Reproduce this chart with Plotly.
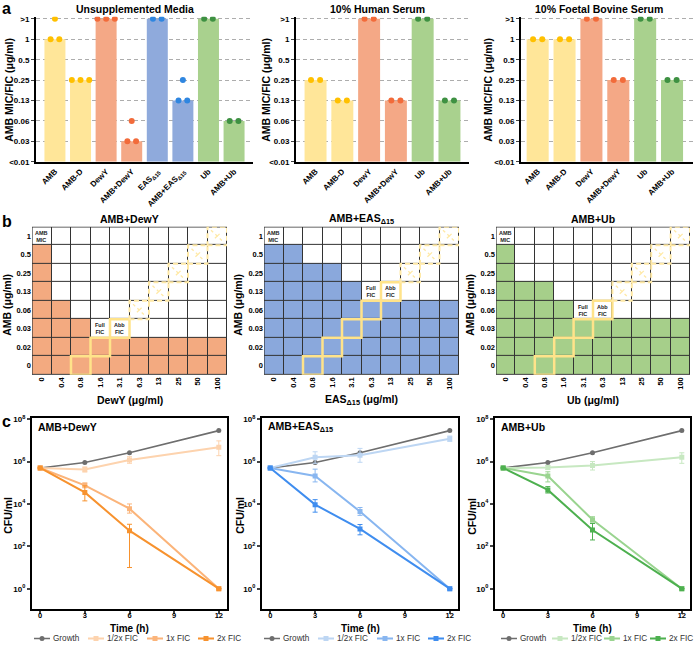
import plotly.graph_objects as go

W, H = 696, 648
FONT = "Liberation Sans, Arial, sans-serif"

# ------------------------- panel a data -------------------------
mic_levels = ["<0.01", "0.03", "0.06", "0.13", "0.25", "0.5", "1", ">1"]

unsup_cats = ["AMB", "AMB-D", "DewY", "AMB+DewY", "EAS<sub>Δ15</sub>",
              "AMB+EAS<sub>Δ15</sub>", "Ub", "AMB+Ub"]
unsup_bar = ["1", "0.25", ">1", "0.03", ">1", "0.13", ">1", "0.06"]
unsup_reps = [["1", ">1", "1"], ["0.25", "0.25", "0.25"], [">1", ">1", ">1"],
              ["0.03", "0.06", "0.03"], [">1", ">1"], ["0.13", "0.25", "0.13"],
              [">1", ">1"], ["0.06", "0.06"]]

hs_cats = ["AMB", "AMB-D", "DewY", "AMB+DewY", "Ub", "AMB+Ub"]
hs_bar = ["0.25", "0.13", ">1", "0.13", ">1", "0.13"]
hs_reps = [["0.25", "0.25"], ["0.13", "0.13"], [">1", ">1"],
           ["0.13", "0.13"], [">1", ">1"], ["0.13", "0.13"]]

fbs_cats = ["AMB", "AMB-D", "DewY", "AMB+DewY", "Ub", "AMB+Ub"]
fbs_bar = ["1", "1", ">1", "0.25", ">1", "0.25"]
fbs_reps = [["1", "1"], ["1", "1"], [">1", ">1"],
            ["0.25", "0.25"], [">1", ">1"], ["0.25", "0.25"]]

# ------------------------- panel b data -------------------------
partner_conc = ["0", "0.4", "0.8", "1.6", "3.1", "6.3", "13", "25", "50", "100"]
amb_conc = ["0", "0.02", "0.03", "0.06", "0.13", "0.25", "0.5", "1"]
# lowest AMB concentration without growth, for each partner concentration
dewy_mic = ["1", "0.13", "0.06", "0.03", "0.03", "0.03", "0.03", "0.03", "0.03", "0.03"]
eas_mic = ["1", "1", "0.5", "0.5", "0.25", "0.13", "0.13", "0.13", "0.13", "0.13"]
ub_mic = ["1", "0.25", "0.25", "0.13", "0.06", "0.06", "0.06", "0.06", "0.06", "0.06"]
# (partner, AMB) of full and abbreviated FIC
dewy_full, dewy_abb = ("1.6", "0.03"), ("3.1", "0.03")
eas_full, eas_abb = ("6.3", "0.13"), ("13", "0.13")
ub_full, ub_abb = ("3.1", "0.06"), ("6.3", "0.06")

# ------------------------- panel c data -------------------------
time_h = [0, 3, 6, 12]
growth_cfu = [5.0e5, 9.0e5, 2.6e6, 2.9e7]

dewy_half = [5.0e5, 4.2e5, 1.2e6, 4.7e6]
dewy_half_lo = [None, 3.2e5, 8.3e5, 1.9e6]
dewy_half_hi = [None, 5.6e5, 1.7e6, 9.5e6]
dewy_1x = [5.0e5, 7.6e4, 6.0e3, 1]
dewy_1x_lo = [None, 5.8e4, 3.7e3, None]
dewy_1x_hi = [None, 9.8e4, 1.0e4, None]
dewy_2x = [5.0e5, 3.5e4, 5.5e2, 1]
dewy_2x_lo = [None, 1.4e4, 10, None]
dewy_2x_hi = [None, 7.2e4, 1.1e3, None]

eas_half = [5.0e5, 1.6e6, 2.0e6, 1.2e7]
eas_half_lo = [None, 8.3e5, 9.3e5, 9.0e6]
eas_half_hi = [None, 2.9e6, 4.2e6, 1.6e7]
eas_1x = [5.0e5, 2.1e5, 4.4e3, 1]
eas_1x_lo = [None, 1.1e5, 2.9e3, None]
eas_1x_hi = [None, 4.4e5, 6.8e3, None]
eas_2x = [5.0e5, 9.3e3, 6.6e2, 1]
eas_2x_lo = [None, 4.1e3, 3.5e2, None]
eas_2x_hi = [None, 1.6e4, 1.07e3, None]

ub_half = [5.0e5, 5.3e5, 6.5e5, 1.6e6]
ub_half_lo = [None, 4.2e5, 4.0e5, 8.3e5]
ub_half_hi = [None, 6.6e5, 1.0e6, 2.6e6]
ub_1x = [5.0e5, 2.1e5, 1.8e3, 1]
ub_1x_lo = [None, 1.1e5, 1.4e3, None]
ub_1x_hi = [None, 3.3e5, 2.5e3, None]
ub_2x = [5.0e5, 4.6e4, 5.9e2, 1]
ub_2x_lo = [None, 3.3e4, 2.0e2, None]
ub_2x_hi = [None, 6.6e4, 1.2e3, None]

legend_names = ["Growth", "1/2x FIC", "1x FIC", "2x FIC"]

# ------------------------- styling -------------------------
bar_fill = {"AMB": "#FFE699", "DewY": "#F4A886", "EAS": "#8FAADC", "Ub": "#A9D18E"}
dot_fill = {"AMB": "#FFC000", "DewY": "#F26B3A", "EAS": "#2F86E0", "Ub": "#3E9142"}
heat_fill = {"DewY": "#F3AA80", "EAS": "#8AA8DC", "Ub": "#A6CF8A"}
growth_col = "#6E6E6E"
line_cols = {"DewY": ["#FDD3AE", "#FBB47A", "#F7922E"],
             "EAS": ["#BDD6F3", "#88B6F0", "#3F8DEF"],
             "Ub": ["#C7E8C1", "#9AD490", "#4DB04F"]}
FIC_YELLOW = "#FFE38A"
FIC_DASH = "#FFE9A6"


def fx(p):
    return p / W


def fy(p):
    return 1 - p / H


def family(name):
    for key in ("DewY", "EAS", "Ub"):
        if key in name:
            return key
    return "AMB"


fig = go.Figure()
layout = dict(width=W, height=H, margin=dict(l=0, r=0, t=0, b=0),
              paper_bgcolor="white", plot_bgcolor="white", showlegend=False,
              font=dict(family=FONT, size=8, color="black"))
annotations = []
shapes = []


def ax_names(i):
    if i == 1:
        return "x", "y", "xaxis", "yaxis"
    return f"x{i}", f"y{i}", f"xaxis{i}", f"yaxis{i}"


def ann(text, x, y, size=10.5, angle=0, xanchor="center", color="black", bold=True):
    annotations.append(dict(text=(f"<b>{text}</b>" if bold else text), x=fx(x), y=fy(y),
                            xref="paper", yref="paper", showarrow=False, borderpad=0,
                            xanchor=xanchor, yanchor="middle", textangle=angle,
                            font=dict(family=FONT, size=size, color=color)))


# ------------------------- panel a -------------------------
a_panels = [
    dict(title="Unsupplemented Media", cats=unsup_cats, bar=unsup_bar, reps=unsup_reps,
         x=(36, 253), xr=(-0.74, 7.74), tx=135, ytx=9),
    dict(title="10% Human Serum", cats=hs_cats, bar=hs_bar, reps=hs_reps,
         x=(296, 469), xr=(-0.73, 5.73), tx=377, ytx=266),
    dict(title="10% Foetal Bovine Serum", cats=fbs_cats, bar=fbs_bar, reps=fbs_reps,
         x=(521, 693), xr=(-0.62, 5.78), tx=599, ytx=488),
]
for i, p in enumerate(a_panels, start=1):
    xa, ya, xk, yk = ax_names(i)
    idx = list(range(len(p["cats"])))
    fig.add_trace(go.Bar(x=idx, y=[mic_levels.index(v) for v in p["bar"]],
                         marker=dict(color=[bar_fill[family(c)] for c in p["cats"]],
                                     line=dict(width=0)),
                         width=0.82, xaxis=xa, yaxis=ya, hoverinfo="skip"))
    dx, dy, dc = [], [], []
    for j, reps in enumerate(p["reps"]):
        groups = {}
        for v in reps:
            groups.setdefault(v, 0)
            groups[v] += 1
        for v, n in groups.items():
            for k in range(n):
                dx.append(j + (k - (n - 1) / 2) * 0.34)
                dy.append(mic_levels.index(v))
                dc.append(dot_fill[family(p["cats"][j])])
    fig.add_trace(go.Scatter(x=dx, y=dy, mode="markers",
                             marker=dict(color=dc, size=6, line=dict(width=0)),
                             xaxis=xa, yaxis=ya, hoverinfo="skip"))
    layout[xk] = dict(domain=[fx(p["x"][0]), fx(p["x"][1])], range=list(p["xr"]),
                      tickvals=idx, ticktext=p["cats"], tickangle=-45,
                      showline=True, linewidth=2, linecolor="black", ticks="",
                      showgrid=False, zeroline=False, anchor=ya,
                      tickfont=dict(size=8, weight="bold"))
    layout[yk] = dict(domain=[fy(160), fy(13)], range=[0, 7.1],
                      tickvals=list(range(len(mic_levels))), ticktext=mic_levels,
                      showline=True, linewidth=2, linecolor="black",
                      ticks="outside", ticklen=3, tickwidth=1,
                      showgrid=True, gridcolor="#ADADAD", gridwidth=1, griddash="4px,3px",
                      zeroline=False, anchor=xa, tickfont=dict(size=8, weight="bold"))
    ann(p["title"], p["tx"], 5)
    ann("AMB MIC/FIC (μg/ml)", p["ytx"], 87, size=10.5, angle=-90)

# ------------------------- panel b -------------------------
b_panels = [
    dict(title="AMB+DewY", xt="DewY (μg/ml)", mic=dewy_mic, full=dewy_full, abb=dewy_abb,
         color=heat_fill["DewY"], x=(32, 227), ytx=7),
    dict(title="AMB+EAS<sub>Δ15</sub>", xt="EAS<sub>Δ15</sub> (μg/ml)", mic=eas_mic,
         full=eas_full, abb=eas_abb, color=heat_fill["EAS"], x=(264, 459), ytx=238),
    dict(title="AMB+Ub", xt="Ub (μg/ml)", mic=ub_mic, full=ub_full, abb=ub_abb,
         color=heat_fill["Ub"], x=(496, 690), ytx=470),
]
for i, p in enumerate(b_panels, start=4):
    xa, ya, xk, yk = ax_names(i)
    ncol, nrow = len(partner_conc), len(amb_conc)
    z = [[1 if r < amb_conc.index(p["mic"][c]) else 0 for c in range(ncol)]
         for r in range(nrow)]
    fig.add_trace(go.Heatmap(z=z, x=list(range(ncol)), y=list(range(nrow)),
                             colorscale=[[0, "white"], [1, p["color"]]], zmin=0, zmax=1,
                             showscale=False, xgap=1, ygap=1, hoverinfo="skip",
                             xaxis=xa, yaxis=ya))
    shapes.append(dict(type="rect", xref=xa, yref=ya, x0=-0.5, x1=ncol - 0.5,
                       y0=-0.5, y1=nrow - 0.5, fillcolor="#333333",
                       line=dict(width=0), layer="below"))
    shapes.append(dict(type="rect", xref=xa, yref=ya, x0=-0.5, x1=ncol - 0.5,
                       y0=-0.5, y1=nrow - 0.5, line=dict(width=1.2, color="#333333")))
    ac = partner_conc.index(p["abb"][0])
    ar = amb_conc.index(p["abb"][1])
    d = ac - ar
    for c in range(d, ncol):
        r = c - d
        if r < 0 or r >= nrow:
            continue
        if c <= ac:
            shapes.append(dict(type="rect", xref=xa, yref=ya, x0=c - 0.5, x1=c + 0.5,
                               y0=r - 0.5, y1=r + 0.5,
                               line=dict(width=2.5, color=FIC_YELLOW)))
        else:
            shapes.append(dict(type="rect", xref=xa, yref=ya, x0=c - 0.5, x1=c + 0.5,
                               y0=r - 0.5, y1=r + 0.5,
                               line=dict(width=2, color=FIC_DASH, dash="5px,3px")))
            # diagonal arrow-like marks inside the projected boxes
            shapes.append(dict(type="line", xref=xa, yref=ya, x0=c - 0.32, x1=c + 0.32,
                               y0=r + 0.32, y1=r - 0.32,
                               line=dict(width=1.3, color=FIC_DASH, dash="3px,3px")))
            shapes.append(dict(type="line", xref=xa, yref=ya, x0=c - 0.12, x1=c + 0.12,
                               y0=r - 0.12, y1=r + 0.12,
                               line=dict(width=1.3, color=FIC_DASH)))
    fc = partner_conc.index(p["full"][0])
    fr = amb_conc.index(p["full"][1])
    for text, cx, cy in (("AMB<br>MIC", 0, nrow - 1), ("Full<br>FIC", fc, fr),
                         ("Abb<br>FIC", ac, ar)):
        annotations.append(dict(text=f"<b>{text}</b>", x=cx, y=cy, xref=xa, yref=ya,
                                showarrow=False,
                                font=dict(family=FONT, size=5.5, color="#222")))
    layout[xk] = dict(domain=[fx(p["x"][0]), fx(p["x"][1])], range=[-0.5, ncol - 0.5],
                      tickvals=list(range(ncol)), ticktext=partner_conc, tickangle=-90,
                      showline=False, showgrid=False, zeroline=False, ticks="",
                      anchor=ya, tickfont=dict(size=7.5, weight="bold"))
    layout[yk] = dict(domain=[fy(376), fy(226)], range=[-0.5, nrow - 0.5],
                      tickvals=list(range(nrow)), ticktext=amb_conc,
                      showline=False, showgrid=False, zeroline=False, ticks="",
                      anchor=xa, tickfont=dict(size=7.5, weight="bold"))
    cx_mid = (p["x"][0] + p["x"][1]) / 2
    ann(p["title"], cx_mid, 218)
    ann(p["xt"], cx_mid, 402)
    ann("AMB (μg/ml)", p["ytx"], 305, angle=-90)

# ------------------------- panel c -------------------------
c_panels = [
    dict(label="AMB+DewY", fam="DewY", x=(32, 227), ytx=8, leg=[2, 56, 115, 166],
         series=[(dewy_half, dewy_half_lo, dewy_half_hi), (dewy_1x, dewy_1x_lo, dewy_1x_hi),
                 (dewy_2x, dewy_2x_lo, dewy_2x_hi)]),
    dict(label="AMB+EAS<sub>Δ15</sub>", fam="EAS", x=(262, 458), ytx=240,
         leg=[2, 56, 115, 166],
         series=[(eas_half, eas_half_lo, eas_half_hi), (eas_1x, eas_1x_lo, eas_1x_hi),
                 (eas_2x, eas_2x_lo, eas_2x_hi)]),
    dict(label="AMB+Ub", fam="Ub", x=(495, 690), ytx=472, leg=[6, 57, 109, 155],
         series=[(ub_half, ub_half_lo, ub_half_hi), (ub_1x, ub_1x_lo, ub_1x_hi),
                 (ub_2x, ub_2x_lo, ub_2x_hi)]),
]
for i, p in enumerate(c_panels, start=7):
    xa, ya, xk, yk = ax_names(i)
    fig.add_trace(go.Scatter(x=time_h, y=growth_cfu, mode="lines+markers",
                             line=dict(color=growth_col, width=1.6),
                             marker=dict(symbol="circle", size=5, color=growth_col),
                             xaxis=xa, yaxis=ya, hoverinfo="skip"))
    cols = line_cols[p["fam"]]
    for (vals, lo, hi), col in zip(p["series"], cols):
        plus = [None if h is None else h - v for v, h in zip(vals, hi)]
        minus = [None if l is None else v - l for v, l in zip(vals, lo)]
        fig.add_trace(go.Scatter(x=time_h, y=vals, mode="lines+markers",
                                 line=dict(color=col, width=2),
                                 marker=dict(symbol="square", size=5, color=col),
                                 error_y=dict(type="data", array=plus, arrayminus=minus,
                                              color=col, thickness=1, width=2.5),
                                 xaxis=xa, yaxis=ya, hoverinfo="skip"))
    layout[xk] = dict(domain=[fx(p["x"][0]), fx(p["x"][1])], range=[-0.55, 12.55],
                      tickvals=[0, 3, 6, 9, 12], showline=True, mirror=True,
                      linewidth=2, linecolor="black", ticks="outside", ticklen=3,
                      tickwidth=1.5, showgrid=False, zeroline=False, anchor=ya,
                      ticklabelstandoff=-5,
                      tickfont=dict(size=7.5, weight="bold"))
    layout[yk] = dict(domain=[fy(614), fy(420)], type="log", range=[-0.98, 8.05],
                      tickvals=[1, 1e2, 1e4, 1e6, 1e8],
                      ticktext=["10<sup>0</sup>", "10<sup>2</sup>", "10<sup>4</sup>",
                                "10<sup>6</sup>", "10<sup>8</sup>"],
                      showline=True, mirror=True, linewidth=2, linecolor="black",
                      ticks="outside", ticklen=3, tickwidth=1.5, showgrid=False,
                      zeroline=False, anchor=xa, tickfont=dict(size=8, weight="bold"))
    ann(p["label"], p["x"][0] + 5, 429, xanchor="left")
    ann("Time (h)", (p["x"][0] + p["x"][1]) / 2, 633, size=10)
    ann("CFU/ml", p["ytx"], 519, angle=-90)
    # legend row
    all_cols = [growth_col] + cols
    for k, (name, col) in enumerate(zip(legend_names, all_cols)):
        x0 = p["x"][0] + p["leg"][k]
        fig.add_trace(go.Scatter(x=[x0, x0 + 16], y=[0.5, 0.5], mode="lines",
                                 line=dict(color=col, width=1.6 if k == 0 else 2),
                                 xaxis="x10", yaxis="y10", hoverinfo="skip"))
        fig.add_trace(go.Scatter(x=[x0 + 8], y=[0.5], mode="markers",
                                 marker=dict(symbol="circle" if k == 0 else "square",
                                             size=5, color=col),
                                 xaxis="x10", yaxis="y10", hoverinfo="skip"))
        ann(name, x0 + 18, 643.5, size=8.2, xanchor="left", color="#333", bold=False)

layout["xaxis10"] = dict(domain=[0, 1], range=[0, W], visible=False, anchor="y10",
                         fixedrange=True)
layout["yaxis10"] = dict(domain=[fy(648), fy(639)], range=[0, 1], visible=False,
                         anchor="x10", fixedrange=True)

# panel letters
ann("a", 1, 5, size=16, xanchor="left")
ann("b", 1, 221, size=16, xanchor="left")
ann("c", 1, 423, size=16, xanchor="left")

layout["annotations"] = annotations
layout["shapes"] = shapes
fig.update_layout(**layout)
fig.write_html("out.html")
